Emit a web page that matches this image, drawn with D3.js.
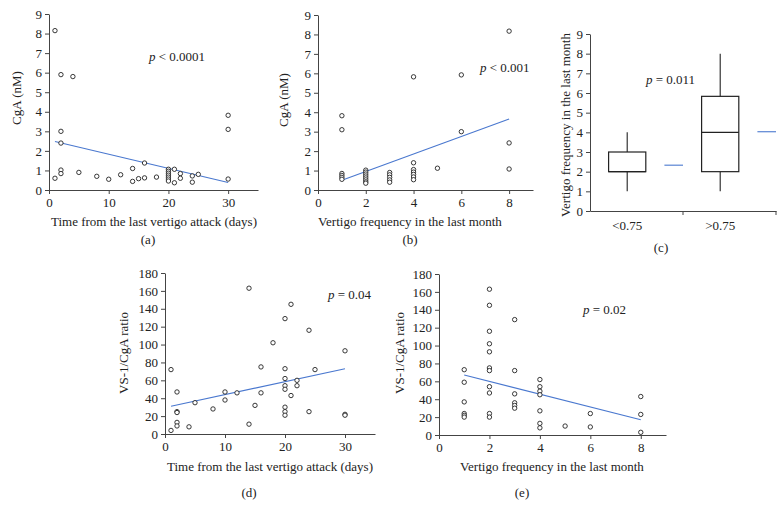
<!DOCTYPE html>
<html>
<head>
<meta charset="utf-8">
<script src="https://cdn.jsdelivr.net/npm/d3@7"></script>
<style>
body { margin: 0; background: #fff; }
svg text { font-family: "Liberation Serif", "Times New Roman", serif; fill: #222; }
.axis path, .axis line { stroke: #444; stroke-width: 1; }
.dot { fill: #fff; stroke: #222; stroke-width: 0.9; }
.trend { stroke: #4a78cf; stroke-width: 1.1; fill: none; }
</style>
</head>
<body>
<svg id="fig" width="784" height="507"></svg>
<script>
// (a) CgA vs days since last attack
const cgaByDays = [
  [1, 8.15], [1, 0.6], [2, 5.9], [2, 3.0], [2, 2.4], [2, 1.02], [2, 0.84], [4, 5.8],
  [5, 0.9], [8, 0.7], [10, 0.55], [12, 0.78], [14, 1.1], [14, 0.44], [15, 0.58],
  [16, 1.38], [16, 0.62], [18, 0.66], [20, 1.06], [20, 0.96], [20, 0.86], [20, 0.76],
  [20, 0.66], [20, 0.56], [20, 0.46], [21, 1.06], [21, 0.37], [22, 0.84], [22, 0.6],
  [24, 0.72], [24, 0.4], [25, 0.8], [30, 3.82], [30, 3.1], [30, 0.56]
];
const trendA = [[1, 2.48], [30, 0.38]];

// (b) CgA vs vertigo frequency
const cgaByFreq = [
  [1, 3.82], [1, 3.1], [1, 0.85], [1, 0.75], [1, 0.65], [1, 0.55],
  [2, 1.02], [2, 0.92], [2, 0.82], [2, 0.72], [2, 0.62], [2, 0.52], [2, 0.42], [2, 0.35],
  [3, 0.9], [3, 0.78], [3, 0.65], [3, 0.52], [3, 0.4],
  [4, 5.82], [4, 1.4], [4, 1.05], [4, 0.92], [4, 0.8], [4, 0.67], [4, 0.53],
  [5, 1.12], [6, 5.92], [6, 3.0], [8, 8.17], [8, 2.42], [8, 1.08]
];
const trendB = [[1, 0.5], [8, 3.65]];

// (c) vertigo frequency by VS-1/CgA group
const groups = ["<0.75", ">0.75"];
const whiskerLow = [1, 1];
const quart1 = [2, 2];
const medians = [2, 4];
const quart3 = [3, 5.83];
const whiskerHigh = [4, 8];
const means = [2.33, 4.03];

// (d) VS-1/CgA vs days since last attack
const ratioByDays = [
  [1, 72], [1, 4], [2, 47], [2, 25], [2, 24], [2, 13], [2, 9], [4, 8], [5, 35], [8, 28],
  [10, 47], [10, 38], [12, 46], [14, 163], [14, 11], [15, 32], [16, 75], [16, 46],
  [18, 102], [20, 129], [20, 73], [20, 62], [20, 54], [20, 50], [20, 30], [20, 25], [20, 21],
  [21, 145], [21, 43], [22, 60], [22, 54], [24, 116], [24, 25], [25, 72],
  [30, 93], [30, 22], [30, 21]
];
const trendD = [[1, 31], [30, 73]];

// (e) VS-1/CgA vs vertigo frequency
const ratioByFreq = [
  [1, 73], [1, 59], [1, 37], [1, 24], [1, 22], [1, 20],
  [2, 163], [2, 145], [2, 116], [2, 102], [2, 93], [2, 75], [2, 72], [2, 54], [2, 47], [2, 24], [2, 20],
  [3, 129], [3, 72], [3, 46], [3, 36], [3, 33], [3, 30],
  [4, 62], [4, 54], [4, 49], [4, 45], [4, 27], [4, 13], [4, 8],
  [5, 10], [6, 24], [6, 9], [8, 43], [8, 23], [8, 3]
];
const trendE = [[1, 67], [8, 17]];

const svg = d3.select("#fig");
svg.append("rect").attr("width", 784).attr("height", 507).attr("fill", "#fff");

function styleAxis(g) {
  g.attr("class", "axis");
  g.selectAll("text").style("font-size", "13px");
}

function pText(x, y, op, val) {
  const t = svg.append("text").attr("x", x).attr("y", y).style("font-size", "13px");
  t.append("tspan").style("font-style", "italic").text("p");
  t.append("tspan").text(` ${op} ${val}`);
}

function yTitle(x, y, txt) {
  svg.append("text")
    .attr("transform", `translate(${x},${y}) rotate(-90)`)
    .attr("text-anchor", "middle")
    .attr("dominant-baseline", "central")
    .style("font-size", "13px")
    .text(txt);
}

function plainText(x, y, txt) {
  svg.append("text").attr("x", x).attr("y", y)
    .attr("text-anchor", "middle").style("font-size", "13px").text(txt);
}

function scatterPanel(p) {
  const x = d3.scaleLinear().domain(p.xDomain).range([p.left, p.right]);
  const y = d3.scaleLinear().domain(p.yDomain).range([p.bottom, p.top]);

  svg.append("g")
    .attr("transform", `translate(0,${p.bottom})`)
    .call(d3.axisBottom(x).tickValues(p.xTicks).tickSize(4).tickSizeOuter(0).tickPadding(4))
    .call(styleAxis);

  svg.append("g")
    .attr("transform", `translate(${p.left},0)`)
    .call(d3.axisLeft(y).tickValues(p.yTicks).tickSize(4).tickSizeOuter(0).tickPadding(3))
    .call(styleAxis);

  svg.append("path")
    .datum(p.trend)
    .attr("class", "trend")
    .attr("d", d3.line().x(d => x(d[0])).y(d => y(d[1])));

  svg.append("g").selectAll("circle")
    .data(p.data)
    .enter()
    .append("circle")
    .attr("class", "dot")
    .attr("cx", d => x(d[0]))
    .attr("cy", d => y(d[1]))
    .attr("r", 2.2);
}

const dayTicks = [0, 10, 20, 30];
const freqTicks = [0, 2, 4, 6, 8];
const cgaTicks = d3.range(0, 10);
const ratioTicks = d3.range(0, 181, 20);

// (a)
scatterPanel({ data: cgaByDays, trend: trendA, xDomain: [0, 35], yDomain: [0, 9],
  left: 49, right: 258, top: 14, bottom: 190, xTicks: dayTicks, yTicks: cgaTicks });
yTitle(16, 98, "CgA (nM)");
plainText(154, 226, "Time from the last vertigo attack (days)");
plainText(148, 244, "(a)");
pText(149, 61, "<", "0.0001");

// (b)
scatterPanel({ data: cgaByFreq, trend: trendB, xDomain: [0, 9], yDomain: [0, 9],
  left: 318, right: 533, top: 15, bottom: 190, xTicks: freqTicks, yTicks: cgaTicks });
yTitle(283, 100, "CgA (nM)");
plainText(410, 226, "Vertigo frequency in the last month");
plainText(410, 244, "(b)");
pText(480, 72, "<", "0.001");

// (c) box plot
(function () {
  const left = 590, right = 776, top = 34, bottom = 211;
  const x = d3.scaleBand().domain(groups).range([left, right]).padding(0);
  const y = d3.scaleLinear().domain([0, 9]).range([bottom, top]);
  const bw = x.bandwidth();

  const xa = svg.append("g")
    .attr("transform", `translate(0,${bottom})`)
    .call(d3.axisBottom(x).tickSize(0).tickSizeOuter(0).tickPadding(10))
    .call(styleAxis);
  xa.selectAll(".tick text").attr("x", -0.1 * bw);
  xa.selectAll(".edge")
    .data(groups.slice(1).map(g => x(g)).concat([right]))
    .enter()
    .append("line")
    .attr("x1", d => d).attr("x2", d => d)
    .attr("y1", 0).attr("y2", 4);

  svg.append("g")
    .attr("transform", `translate(${left},0)`)
    .call(d3.axisLeft(y).tickValues(cgaTicks).tickSize(4).tickSizeOuter(0).tickPadding(3))
    .call(styleAxis);

  groups.forEach((g, i) => {
    const cx = x(g) + 0.4 * bw;
    const half = 0.2 * bw;
    svg.append("line")
      .attr("x1", cx).attr("x2", cx)
      .attr("y1", y(whiskerLow[i])).attr("y2", y(whiskerHigh[i]))
      .attr("stroke", "#222").attr("stroke-width", 1.1);
    svg.append("rect")
      .attr("x", cx - half).attr("width", 2 * half)
      .attr("y", y(quart3[i])).attr("height", y(quart1[i]) - y(quart3[i]))
      .attr("fill", "#fff").attr("stroke", "#222").attr("stroke-width", 1.2);
    svg.append("line")
      .attr("x1", cx - half).attr("x2", cx + half)
      .attr("y1", y(medians[i])).attr("y2", y(medians[i]))
      .attr("stroke", "#222").attr("stroke-width", 1.2);
    svg.append("line")
      .attr("class", "trend")
      .attr("x1", x(g) + 0.8 * bw).attr("x2", x(g) + bw)
      .attr("y1", y(means[i])).attr("y2", y(means[i]));
  });
})();
yTitle(565, 125, "Vertigo frequency in the last month");
plainText(661, 252, "(c)");
pText(646, 84, "=", "0.011");

// (d)
scatterPanel({ data: ratioByDays, trend: trendD, xDomain: [0, 35], yDomain: [0, 180],
  left: 165, right: 375, top: 273, bottom: 434, xTicks: dayTicks, yTicks: ratioTicks });
yTitle(123, 353, "VS-1/CgA ratio");
plainText(270, 471, "Time from the last vertigo attack (days)");
plainText(249, 497, "(d)");
pText(328, 299, "=", "0.04");

// (e)
scatterPanel({ data: ratioByFreq, trend: trendE, xDomain: [0, 9], yDomain: [0, 180],
  left: 439, right: 666, top: 274, bottom: 435, xTicks: freqTicks, yTicks: ratioTicks });
yTitle(399, 353, "VS-1/CgA ratio");
plainText(552, 471, "Vertigo frequency in the last month");
plainText(522, 497, "(e)");
pText(583, 314, "=", "0.02");
</script>
</body>
</html>
